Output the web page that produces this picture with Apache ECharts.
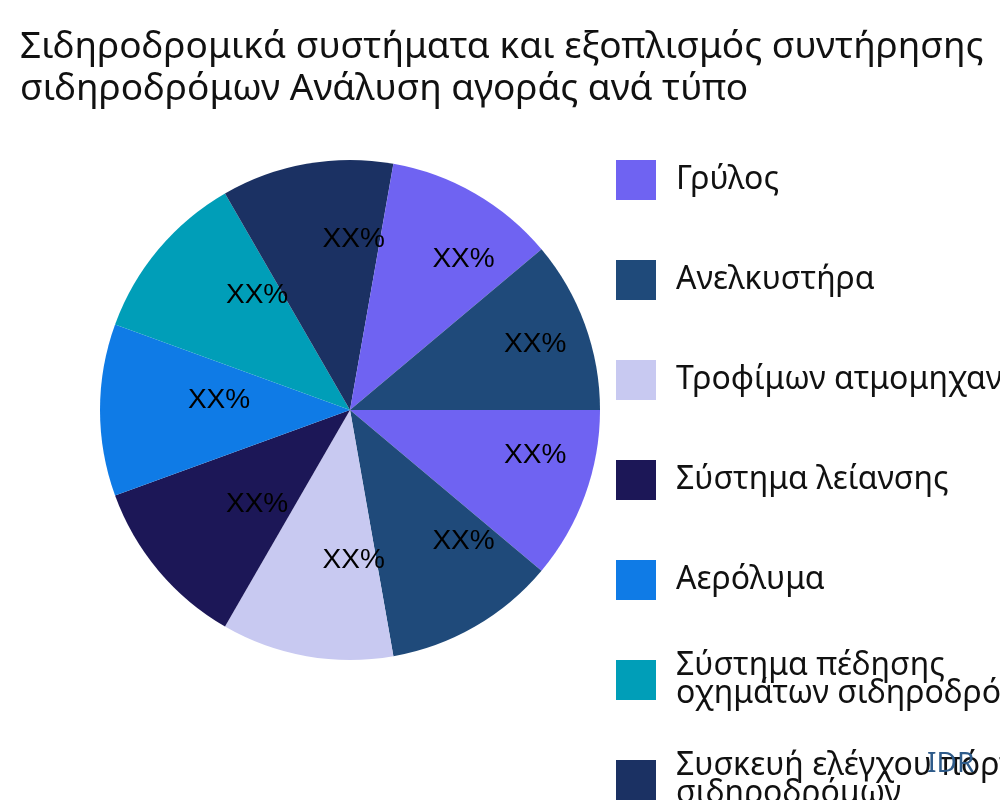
<!DOCTYPE html>
<html>
<head>
<meta charset="utf-8">
<script src="https://cdn.jsdelivr.net/npm/echarts@6/dist/echarts.min.js"></script>
<style>html,body{margin:0;padding:0;background:#fff}#chart{width:1000px;height:800px}</style>
</head>
<body>
<div id="chart"></div>
<script>
var categories = [
    'Γρύλος',
    'Ανελκυστήρα',
    'Τροφίμων ατμομηχανής',
    'Σύστημα λείανσης',
    'Αερόλυμα',
    'Σύστημα πέδησης\nοχημάτων σιδηροδρόμων',
    'Συσκευή ελέγχου πόρτας\nσιδηροδρόμων',
    'Σύστημα σηματοδότησης',
    'Άλλα'
]
var values = [1, 1, 1, 1, 1, 1, 1, 1, 1]
var labels = ['XX%', 'XX%', 'XX%', 'XX%', 'XX%', 'XX%', 'XX%', 'XX%', 'XX%']
var colors = ['#6F63F2', '#1F4A7A', '#C8C9F1', '#1C1757', '#0F7BE6', '#009EB8', '#1B3163']

var data = categories.map(function (c, i) { return { name: c, value: values[i] } })

// legend split in blocks so two-line names keep the 100px step
function legendBlock(names, top) {
    return {
        orient: 'vertical',
        left: 611, top: top,
        itemWidth: 40, itemHeight: 40, itemGap: 60,
        icon: 'rect',
        data: names,
        textStyle: { fontFamily: 'Noto Sans', fontSize: 32, lineHeight: 28, color: '#111', padding: [0, 0, 0, 15] }
    }
}

var chart = echarts.init(document.getElementById('chart'))
chart.setOption({
    color: colors,
    animation: false,
    title: {
        text: 'Σιδηροδρομικά συστήματα και εξοπλισμός συντήρησης\nσιδηροδρόμων Ανάλυση αγοράς ανά τύπο',
        left: 15, top: 21,
        textStyle: { fontFamily: 'Noto Sans', fontWeight: 'normal', fontSize: 37, lineHeight: 42, color: '#111' }
    },
    legend: [
        legendBlock(categories.slice(0, 5), 155),
        legendBlock(categories.slice(5, 6), 645),
        legendBlock(categories.slice(6), 745)
    ],
    graphic: [{
        type: 'text', left: 927, top: 750, z: 100,
        style: { text: 'IDR', fontFamily: 'Noto Sans', fontSize: 28, fill: '#2E5B8A' }
    }],
    series: [{
        type: 'pie',
        center: [350, 410], radius: 250,
        startAngle: 0,
        label: { show: false },
        labelLine: { show: false },
        data: data
    }, {
        type: 'pie',
        center: [350, 400], radius: [70, 250],
        startAngle: 0, silent: true,
        itemStyle: { color: 'transparent' },
        label: {
            show: true, position: 'inside',
            padding: [0, 0, 0, 64],
            formatter: function (p) { return labels[p.dataIndex] },
            fontFamily: 'Liberation Sans', fontSize: 28, color: '#000'
        },
        data: data
    }]
})
</script>
</body>
</html>
